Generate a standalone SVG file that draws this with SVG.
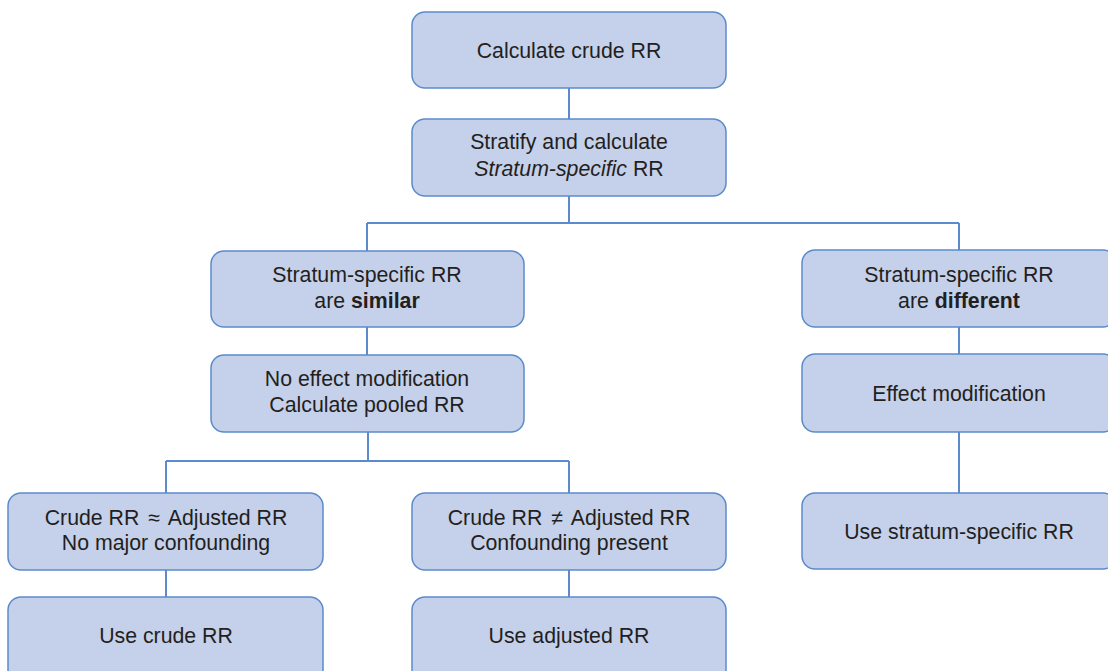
<svg xmlns="http://www.w3.org/2000/svg" width="1108" height="671" viewBox="0 0 1108 671">
<style>
.box{fill:#c5d0ea;stroke:#5b8bcb;stroke-width:1.5}
.t{font-family:"Liberation Sans",Arial,sans-serif;font-size:21.3px;fill:#231f20;text-anchor:middle}
.c{fill:none;stroke:#5b8bcb;stroke-width:2}
</style>
<rect width="1108" height="671" fill="#ffffff"/>
<g id="connectors">
<path class="c" d="M569,88 V119"/>
<path class="c" d="M569,196 V223 M367,223 H959 M367,223 V251 M959,223 V250"/>
<path class="c" d="M367,327 V355"/>
<path class="c" d="M368,432 V461 M166,461 H569 M166,461 V493 M569,461 V493"/>
<path class="c" d="M166,570 V597"/>
<path class="c" d="M569,570 V597"/>
<path class="c" d="M959,327 V354"/>
<path class="c" d="M959,432 V493"/>
</g>
<g id="n1"><rect class="box" x="412" y="12" width="314" height="76" rx="13"/><text class="t" x="569" y="58">Calculate crude RR</text></g>
<g id="n2"><rect class="box" x="412" y="119" width="314" height="77" rx="13"/><text class="t" x="569" y="149">Stratify and calculate</text><text class="t" x="569" y="176"><tspan font-style="italic">Stratum-specific</tspan> RR</text></g>
<g id="n3"><rect class="box" x="211" y="251" width="313" height="76" rx="13"/><text class="t" x="367" y="282">Stratum-specific RR</text><text class="t" x="367" y="308">are <tspan font-weight="bold">similar</tspan></text></g>
<g id="n4"><rect class="box" x="211" y="355" width="313" height="77" rx="13"/><text class="t" x="367" y="386">No effect modification</text><text class="t" x="367" y="412">Calculate pooled RR</text></g>
<g id="n5"><rect class="box" x="802" y="250" width="314" height="77" rx="13"/><text class="t" x="959" y="282">Stratum-specific RR</text><text class="t" x="959" y="308">are <tspan font-weight="bold">different</tspan></text></g>
<g id="n6"><rect class="box" x="802" y="354" width="314" height="78" rx="13"/><text class="t" x="959" y="401">Effect modification</text></g>
<g id="n7"><rect class="box" x="802" y="493" width="314" height="76" rx="13"/><text class="t" x="959" y="539">Use stratum-specific RR</text></g>
<g id="n8"><rect class="box" x="8" y="493" width="315" height="77" rx="13"/><text class="t" x="166" y="525">Crude RR <tspan dx="3">≈</tspan><tspan dx="3"> Adjusted RR</tspan></text><text class="t" x="166" y="550">No major confounding</text></g>
<g id="n9"><rect class="box" x="412" y="493" width="314" height="77" rx="13"/><text class="t" x="569" y="525">Crude RR <tspan dx="3">≠</tspan><tspan dx="3"> Adjusted RR</tspan></text><text class="t" x="569" y="550">Confounding present</text></g>
<g id="n10"><rect class="box" x="8" y="597" width="315" height="90" rx="13"/><text class="t" x="166" y="643">Use crude RR</text></g>
<g id="n11"><rect class="box" x="412" y="597" width="314" height="90" rx="13"/><text class="t" x="569" y="643">Use adjusted RR</text></g>
</svg>
